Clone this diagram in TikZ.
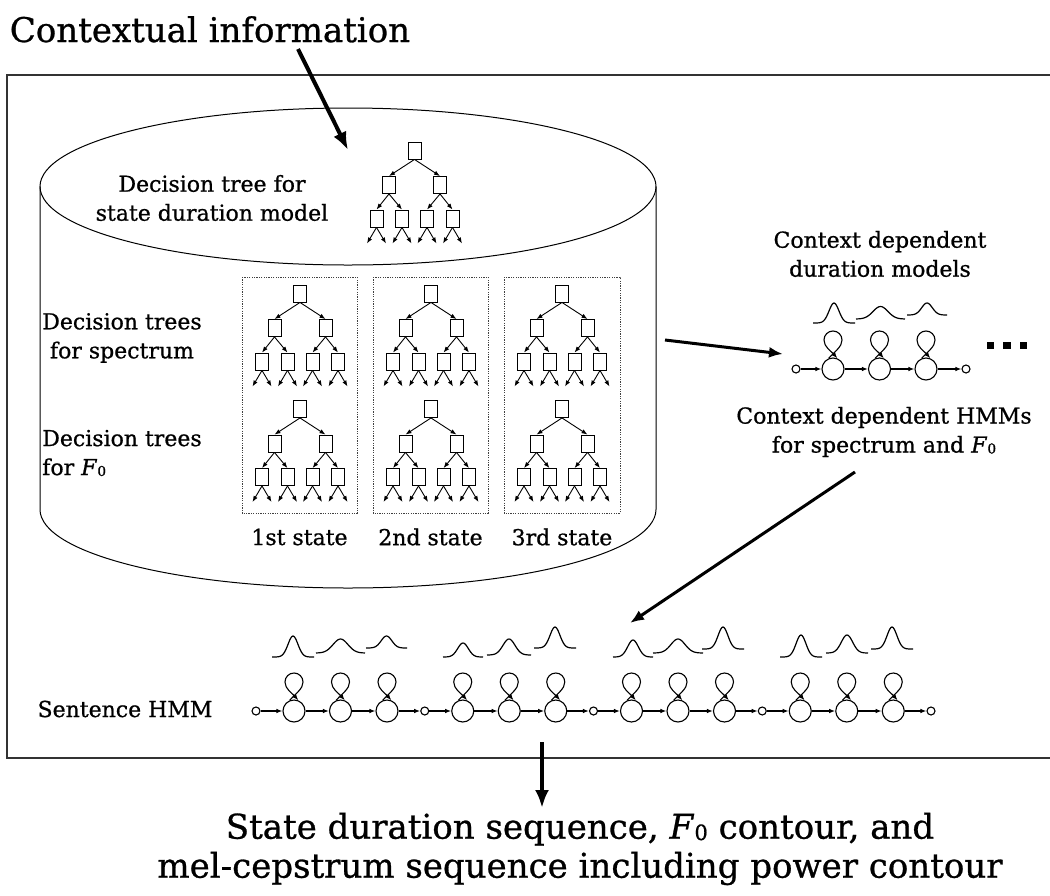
\documentclass[tikz,border=0pt]{standalone}
\usepackage{fontspec}
\setmainfont{DejaVu Serif}[RawFeature={embolden=0.8}]
\usetikzlibrary{arrows.meta,calc}
\newcommand\Fzero{\textit{F}\kern0.3pt\raisebox{-0.04em}{\scalebox{0.62}{0}}}
\newcommand\dtree[3]{%
 \node[tbox] (#1r) at (#2,#3) {};
 \node[tbox] (#1a) at ({#2-25.5},{#3+34.5}) {};
 \node[tbox] (#1b) at ({#2+25.5},{#3+34.5}) {};
 \node[tbox] (#1c) at ({#2-38},{#3+68}) {};
 \node[tbox] (#1d) at ({#2-12.5},{#3+68}) {};
 \node[tbox] (#1e) at ({#2+12.5},{#3+68}) {};
 \node[tbox] (#1f) at ({#2+38},{#3+68}) {};
 \draw[tarr] (#1r.south) -- (#1a.north);
 \draw[tarr] (#1r.south) -- (#1b.north);
 \draw[tarr] (#1a.south) -- (#1c.north);
 \draw[tarr] (#1a.south) -- (#1d.north);
 \draw[tarr] (#1b.south) -- (#1e.north);
 \draw[tarr] (#1b.south) -- (#1f.north);
 \foreach \n/\o in {c/-38,d/-12.5,e/12.5,f/38}{
   \coordinate (#1\n-l) at ({#2+\o-9.5},{#3+93});
   \coordinate (#1\n-r) at ({#2+\o+9.5},{#3+93});
   \draw[tarr] (#1\n.south) -- (#1\n-l);
   \draw[tarr] (#1\n.south) -- (#1\n-r);
 }%
}
\newcommand\gss[5]{\draw[gline] plot[domain=-#4:#4, samples=41, smooth, variable=\t] ({#1+\t},{#2-(#2-#3)*exp(0-(\t/#5)*(\t/#5))});}
\newcommand\selfloop[1]{\draw[harr] (#1.112)
  .. controls ($(#1)+(2,-18)$) and ($(#1)+(9,-22)$) .. ($(#1)+(9,-29)$)
  .. controls ($(#1)+(9,-34)$) and ($(#1)+(5,-38)$) .. ($(#1)+(0,-38)$)
  .. controls ($(#1)+(-5,-38)$) and ($(#1)+(-9,-34)$) .. ($(#1)+(-9,-29)$)
  .. controls ($(#1)+(-9,-22)$) and ($(#1)+(-2,-18)$) .. (#1.68);}
\begin{document}
\begin{tikzpicture}[x=1pt,y=-1pt,
  tbox/.style={draw, fill=white, minimum width=13pt, minimum height=17pt, inner sep=0pt, line width=0.9pt},
  tarr/.style={-{Latex[length=6pt,width=4.5pt]}, line width=0.9pt},
  st/.style={circle, draw, minimum size=22pt, inner sep=0pt, line width=1.1pt},
  sm/.style={circle, draw, minimum size=8pt, inner sep=0pt, line width=1.1pt},
  harr/.style={-{Latex[length=6pt,width=4.5pt]}, line width=1.1pt},
  gline/.style={line width=1.2pt},
  bigarrow/.style={-{Latex[length=18pt,width=14pt]}, line width=4pt},
  midarrow/.style={-{Latex[length=14pt,width=11pt]}, line width=3pt},
  cyl/.style={line width=1pt},
  outerline/.style={line width=1.2pt, black!80},
  dotb/.style={line width=0.8pt, black!75, dash pattern=on 1.2pt off 1.2pt},
  lbl/.style={font=\fontsize{22}{29}\selectfont, align=center, inner sep=0pt},
  ttl/.style={font=\fontsize{34}{39}\selectfont, align=center, inner sep=0pt},
  dotsq/.style={fill=black, minimum width=7.5pt, minimum height=7pt, inner sep=0pt}]
\useasboundingbox (0,0) rectangle (1050,895);
\clip (0,0) rectangle (1050,895);
% outer frame
\draw[outerline] (1060,75) -- (7,75) -- (7,758) -- (1060,758);
% cylinder
\draw[cyl] (348,186.5) ellipse [x radius=308pt, y radius=78.5pt];
\draw[cyl] (40,186.5) -- (40,509.5) arc[start angle=180, end angle=360, x radius=308pt, y radius=78.5pt] -- (656,186.5);
% dotted boxes
\draw[dotb] (242,277) rectangle (357,513);
\draw[dotb] (373,277) rectangle (488,513);
\draw[dotb] (504,277) rectangle (620,513);
% trees
\dtree{d}{414.5}{150.5}
\dtree{sa}{300}{293.5}
\dtree{sb}{431}{293.5}
\dtree{sc}{562}{293.5}
\dtree{fa}{300}{409}
\dtree{fb}{431}{409}
\dtree{fc}{562}{409}
% labels
\node[ttl, anchor=base] (lctx) at (210,42) {Contextual information};
\node[lbl] (ldur) at (212,198) {Decision tree for\\state duration model};
\node[lbl] (lspec) at (122,338) {Decision trees\\for spectrum};
\node[lbl, align=left] (lf0) at (122,453) {Decision trees\\for \Fzero};
\node[lbl] (st1) at (299.5,537) {1st state};
\node[lbl] (st2) at (430.5,537) {2nd state};
\node[lbl] (st3) at (562,537) {3rd state};
\node[lbl] (ldm) at (880,254) {Context dependent\\duration models};
\node[lbl] (lhmm) at (884,432) {Context dependent HMMs\\for spectrum and \Fzero};
\node[lbl, anchor=base] (lsent) at (125,717) {Sentence HMM};
\node[ttl] (lout) at (580,849) {State duration sequence, \Fzero{} contour, and\\mel-cepstrum sequence including power contour};
% right HMM
\node[sm] (ri) at (796,369) {};
\node[st] (r1) at (833,369) {};
\node[st] (r2) at (879.5,369) {};
\node[st] (r3) at (926,369) {};
\node[sm] (ro) at (966,369) {};
\draw[harr] (ri) -- (r1);
\draw[harr] (r1) -- (r2);
\draw[harr] (r2) -- (r3);
\draw[harr] (r3) -- (ro);
\selfloop{r1}\selfloop{r2}\selfloop{r3}
\gss{834}{323}{303}{21}{7}
\gss{880.5}{319}{306.5}{24.5}{10.5}
\gss{927}{315}{303}{20}{7.5}
\node[dotsq] (dt1) at (990.5,345) {};
\node[dotsq] (dt2) at (1007,345) {};
\node[dotsq] (dt3) at (1023.5,345) {};
% sentence HMM
\foreach \k in {0,...,4} \node[sm] (p\k) at ({256+168.75*\k},711) {};
\foreach \k in {0,...,3} {
  \foreach \j in {0,1,2} \node[st] (q\k\j) at ({294+168.75*\k+46.5*\j},711) {};
  \pgfmathtruncatemacro\kn{\k+1}
  \draw[harr] (p\k) -- (q\k0);
  \draw[harr] (q\k0) -- (q\k1);
  \draw[harr] (q\k1) -- (q\k2);
  \draw[harr] (q\k2) -- (p\kn);
  \selfloop{q\k0}\selfloop{q\k1}\selfloop{q\k2}
}
\gss{293}{657}{636}{21}{7}
\gss{340.5}{653}{639}{24.5}{10.5}
\gss{386.5}{648}{636}{20.5}{7.5}
\gss{463}{657}{643}{20}{7.5}
\gss{509}{655}{639}{22}{8.5}
\gss{555}{648}{627}{21}{7}
\gss{633}{657}{640}{20}{7.5}
\gss{678}{653}{639}{25}{10}
\gss{723}{649}{627}{21}{7}
\gss{801}{657}{635}{21}{7}
\gss{847}{653}{635}{21}{8}
\gss{892}{649}{627}{21}{7}
% arrows
\coordinate (a1s) at (298,49); \coordinate (a1e) at (348,150);
\draw[bigarrow] (a1s) -- (a1e);
\coordinate (a2s) at (665,340); \coordinate (a2e) at (783,354);
\draw[midarrow] (a2s) -- (a2e);
\coordinate (a3s) at (855,472); \coordinate (a3e) at (630,623);
\draw[midarrow] (a3s) -- (a3e);
\coordinate (a4s) at (542,742); \coordinate (a4e) at (542,808);
\draw[bigarrow] (a4s) -- (a4e);
\end{tikzpicture}
\end{document}
